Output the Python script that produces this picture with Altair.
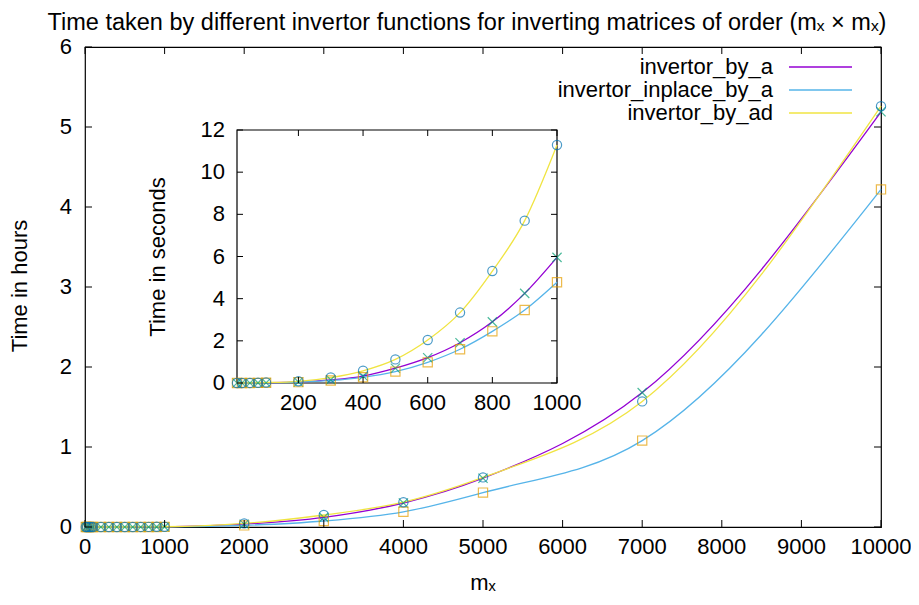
import altair as alt
import pandas as pd

# ---------------- data (times in seconds) ----------------
m_values = [10, 25, 50, 75, 100, 200, 300, 400, 500, 600, 700, 800, 900, 1000,
            2000, 3000, 4000, 5000, 7000, 10000]
by_a_sec = [0.0, 0.0005, 0.002, 0.006, 0.012, 0.05, 0.15, 0.33, 0.70, 1.20, 1.91, 2.90, 4.25, 5.96,
            126, 432, 1080, 2196, 6048, 18684]
inplace_sec = [0.0, 0.0004, 0.0015, 0.005, 0.010, 0.04, 0.12, 0.27, 0.54, 0.98, 1.60, 2.45, 3.46, 4.78,
               72, 270, 684, 1548, 3888, 15192]
by_ad_sec = [0.0, 0.0008, 0.004, 0.012, 0.020, 0.08, 0.26, 0.58, 1.12, 2.04, 3.34, 5.31, 7.70, 11.29,
             162, 540, 1116, 2232, 5652, 18936]

series_names = ["invertor_by_a", "invertor_inplace_by_a", "invertor_by_ad"]
line_colors = ["#9400d3", "#56b4e9", "#f0e442"]
point_colors = ["#009e73", "#e69f00", "#0072b2"]
X_PATH = "M-1,-1L1,1M-1,1L1,-1"
point_shapes = [X_PATH, "square", "circle"]

main_x_ticks = [0, 1000, 2000, 3000, 4000, 5000, 6000, 7000, 8000, 9000, 10000]
main_y_ticks = [0, 1, 2, 3, 4, 5, 6]
inset_x_ticks = [200, 400, 600, 800, 1000]
inset_y_ticks = [0, 2, 4, 6, 8, 10, 12]

title_text = "Time taken by different invertor functions for inverting matrices of order (mₓ × mₓ)"
x_title = "mₓ"
y_title = "Time in hours"
inset_y_title = "Time in seconds"

rows = []
for name, vals in zip(series_names, [by_a_sec, inplace_sec, by_ad_sec]):
    for m, t in zip(m_values, vals):
        rows.append({"m": m, "series": name, "sec": t})
df = pd.DataFrame(rows)
df_inset = df[df["m"] <= 1000]

# ---------------- layout ----------------
W, H = 796, 480
FONT = "Liberation Sans"
FS = 22
IX0, IX1 = 152, 472     # inset plot area (relative to main plot area)
IY0, IY1 = 336, 83
TICK = 7

color_enc = alt.Color("series:N", scale=alt.Scale(domain=series_names, range=line_colors), legend=None)
stroke_enc = alt.Stroke("series:N", scale=alt.Scale(domain=series_names, range=point_colors), legend=None)
shape_enc = alt.Shape("series:N", scale=alt.Scale(domain=series_names, range=point_shapes), legend=None)

# main scales
mx_scale = alt.Scale(domain=[0, 10000], nice=False, zero=False)
my_scale = alt.Scale(domain=[0, 6], nice=False, zero=False)

main_base = alt.Chart(df).transform_calculate(hours="datum.sec / 3600")
main_lines = main_base.mark_line(interpolate="monotone", strokeWidth=1.3).encode(
    x=alt.X("m:Q", scale=mx_scale, axis=None),
    y=alt.Y("hours:Q", scale=my_scale, axis=None),
    color=color_enc,
)
main_points = main_base.mark_point(filled=False, size=85, strokeWidth=1.2).encode(
    x=alt.X("m:Q", scale=mx_scale, axis=None),
    y=alt.Y("hours:Q", scale=my_scale, axis=None),
    stroke=stroke_enc,
    shape=shape_enc,
)
mxt = pd.DataFrame({"v": main_x_ticks})
myt = pd.DataFrame({"v": main_y_ticks})
mt_bottom = alt.Chart(mxt).mark_rule(color="black", strokeWidth=1).encode(
    x=alt.X("v:Q", scale=mx_scale, axis=None), y=alt.value(H - TICK), y2=alt.value(H))
mt_top = alt.Chart(mxt).mark_rule(color="black", strokeWidth=1).encode(
    x=alt.X("v:Q", scale=mx_scale, axis=None), y=alt.value(0), y2=alt.value(TICK))
mt_left = alt.Chart(myt).mark_rule(color="black", strokeWidth=1).encode(
    y=alt.Y("v:Q", scale=my_scale, axis=None), x=alt.value(0), x2=alt.value(TICK))
mt_right = alt.Chart(myt).mark_rule(color="black", strokeWidth=1).encode(
    y=alt.Y("v:Q", scale=my_scale, axis=None), x=alt.value(W - TICK), x2=alt.value(W))
mlab_x = alt.Chart(mxt).mark_text(font=FONT, fontSize=FS, color="black", align="center",
                                  baseline="middle").encode(
    x=alt.X("v:Q", scale=mx_scale, axis=None), y=alt.value(H + 20),
    text=alt.Text("v:Q", format="d"))
mlab_y = alt.Chart(myt).mark_text(font=FONT, fontSize=FS, color="black", align="right",
                                  baseline="middle").encode(
    y=alt.Y("v:Q", scale=my_scale, axis=None), x=alt.value(-13),
    text=alt.Text("v:Q", format="d"))

main = alt.layer(main_lines, main_points, mt_bottom, mt_top, mt_left, mt_right, mlab_x, mlab_y)

# inset scales
ix_scale = alt.Scale(domain=[10, 1000], range=[IX0, IX1], nice=False, zero=False)
iy_scale = alt.Scale(domain=[0, 12], range=[IY0, IY1], nice=False, zero=False)

inset_box = alt.Chart(pd.DataFrame({"a": [0]})).mark_rect(fill="white", stroke="black", strokeWidth=1.2).encode(
    x=alt.X(datum=10, scale=ix_scale, axis=None), x2=alt.X2(datum=1000),
    y=alt.Y(datum=0, scale=iy_scale, axis=None), y2=alt.Y2(datum=12))
inset_lines = alt.Chart(df_inset).mark_line(interpolate="monotone", strokeWidth=1.3).encode(
    x=alt.X("m:Q", scale=ix_scale, axis=None),
    y=alt.Y("sec:Q", scale=iy_scale, axis=None),
    color=color_enc,
)
inset_points = alt.Chart(df_inset).mark_point(filled=False, size=85, strokeWidth=1.2).encode(
    x=alt.X("m:Q", scale=ix_scale, axis=None),
    y=alt.Y("sec:Q", scale=iy_scale, axis=None),
    stroke=stroke_enc,
    shape=shape_enc,
)
ixt = pd.DataFrame({"v": inset_x_ticks})
iyt = pd.DataFrame({"v": inset_y_ticks})
it_bottom = alt.Chart(ixt).mark_rule(color="black", strokeWidth=1).encode(
    x=alt.X("v:Q", scale=ix_scale, axis=None), y=alt.value(IY0 - TICK + 1), y2=alt.value(IY0))
it_top = alt.Chart(ixt).mark_rule(color="black", strokeWidth=1).encode(
    x=alt.X("v:Q", scale=ix_scale, axis=None), y=alt.value(IY1), y2=alt.value(IY1 + TICK - 1))
it_left = alt.Chart(iyt).mark_rule(color="black", strokeWidth=1).encode(
    y=alt.Y("v:Q", scale=iy_scale, axis=None), x=alt.value(IX0), x2=alt.value(IX0 + TICK - 1))
it_right = alt.Chart(iyt).mark_rule(color="black", strokeWidth=1).encode(
    y=alt.Y("v:Q", scale=iy_scale, axis=None), x=alt.value(IX1 - TICK + 1), x2=alt.value(IX1))
ilab_x = alt.Chart(ixt).mark_text(font=FONT, fontSize=FS, color="black", align="center",
                                  baseline="middle").encode(
    x=alt.X("v:Q", scale=ix_scale, axis=None), y=alt.value(IY0 + 20),
    text=alt.Text("v:Q", format="d"))
ilab_y = alt.Chart(iyt).mark_text(font=FONT, fontSize=FS, color="black", align="right",
                                  baseline="middle").encode(
    y=alt.Y("v:Q", scale=iy_scale, axis=None), x=alt.value(IX0 - 12),
    text=alt.Text("v:Q", format="d"))

inset = alt.layer(inset_box, inset_lines, inset_points, it_bottom, it_top, it_left, it_right,
                  ilab_x, ilab_y)

# ---------------- titles and legend ----------------
one = pd.DataFrame({"a": [0]})


def label(text, x, y, angle=0, align="center", size=FS):
    return alt.Chart(one).mark_text(font=FONT, fontSize=size, color="black", align=align,
                                    baseline="middle", angle=angle).encode(
        x=alt.value(x), y=alt.value(y), text=alt.value(text))


texts = [
    label(title_text, 382, -24, size=23.5),
    label(y_title, -65, 239, angle=270),
    label(x_title, 398, 536),
    label(inset_y_title, 73, 210, angle=270),
]
legend_layers = []
for i, (name, col) in enumerate(zip(series_names, line_colors)):
    yy = 20 + i * 23
    legend_layers.append(label(name, 688, yy, align="right"))
    legend_layers.append(
        alt.Chart(one).mark_rule(color=col, strokeWidth=1.3).encode(
            x=alt.value(704), x2=alt.value(767), y=alt.value(yy)))

chart = alt.layer(main, inset, *texts, *legend_layers).resolve_scale(
    x="independent", y="independent"
).properties(
    width=W, height=H, autosize="none",
    padding={"left": 77, "top": 39, "right": 30, "bottom": 70},
).configure_view(
    stroke="black", strokeWidth=1.2
)

chart.save("out.html", embed_options={"renderer": "svg", "actions": False})
